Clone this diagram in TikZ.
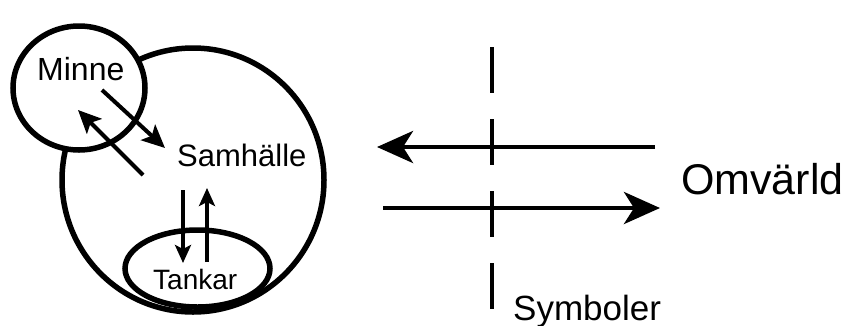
\documentclass[tikz,border=0pt]{standalone}
\usepackage{fontspec}
\setmainfont{Liberation Sans}
\usetikzlibrary{arrows.meta}
\begin{document}
\begin{tikzpicture}[x=1pt,y=-1pt,
  ring/.style={line width=5.5pt,draw=black,fill=white},
  lbl/.style={inner sep=0pt,anchor=base west},
  flow/.style={line width=4.5pt,-{Stealth[length=36pt,width=32pt,inset=10pt]}},
  link/.style={line width=4pt,-{Stealth[length=23pt,width=21pt,inset=5pt]}},
  vlink/.style={line width=3.5pt,-{Stealth[length=18pt,width=16pt,inset=4pt]}},
  border/.style={line width=4.5pt,dash pattern=on 46pt off 26pt}]
\useasboundingbox (0,0) rectangle (851,325);

% society, memory and thought
\draw[ring] (193,180) ellipse [x radius=131, y radius=132];
\draw[ring] (79,88) ellipse [x radius=66, y radius=62];
\draw[ring] (197.5,268.5) ellipse [x radius=72.5, y radius=38.5];

\node[lbl,font=\fontsize{32}{38}\selectfont] (minne) at (37,80) {Minne};
\node[lbl,font=\fontsize{31}{37}\selectfont] (samh) at (177,166) {Samhälle};
\node[lbl,font=\fontsize{28}{34}\selectfont] (tankar) at (153,289) {Tankar};
\node[lbl,font=\fontsize{43}{50}\selectfont] (omv) at (681,194) {Omvärld};
\node[lbl,font=\fontsize{35}{42}\selectfont] (symb) at (513,320) {Symboler};

% exchange between memory and society
\coordinate (m1) at (102,90);
\coordinate (s1) at (165,148);
\coordinate (s2) at (143,175);
\coordinate (m2) at (78,110);
\draw[link] (m1) -- (s1);
\draw[link] (s2) -- (m2);

% exchange between society and thought
\coordinate (s3) at (183,190);
\coordinate (t3) at (183,263);
\coordinate (t4) at (207,262);
\coordinate (s4) at (207,188);
\draw[vlink] (s3) -- (t3);
\draw[vlink] (t4) -- (s4);

% symbolic boundary
\coordinate (btop) at (492,47);
\coordinate (bbot) at (492,312);
\draw[border] (btop) -- (bbot);

% exchange with the surrounding world
\coordinate (w1) at (655,147);
\coordinate (i1) at (377,147);
\coordinate (i2) at (383,208);
\coordinate (w2) at (660,208);
\draw[flow] (w1) -- (i1);
\draw[flow] (i2) -- (w2);
\end{tikzpicture}
\end{document}
